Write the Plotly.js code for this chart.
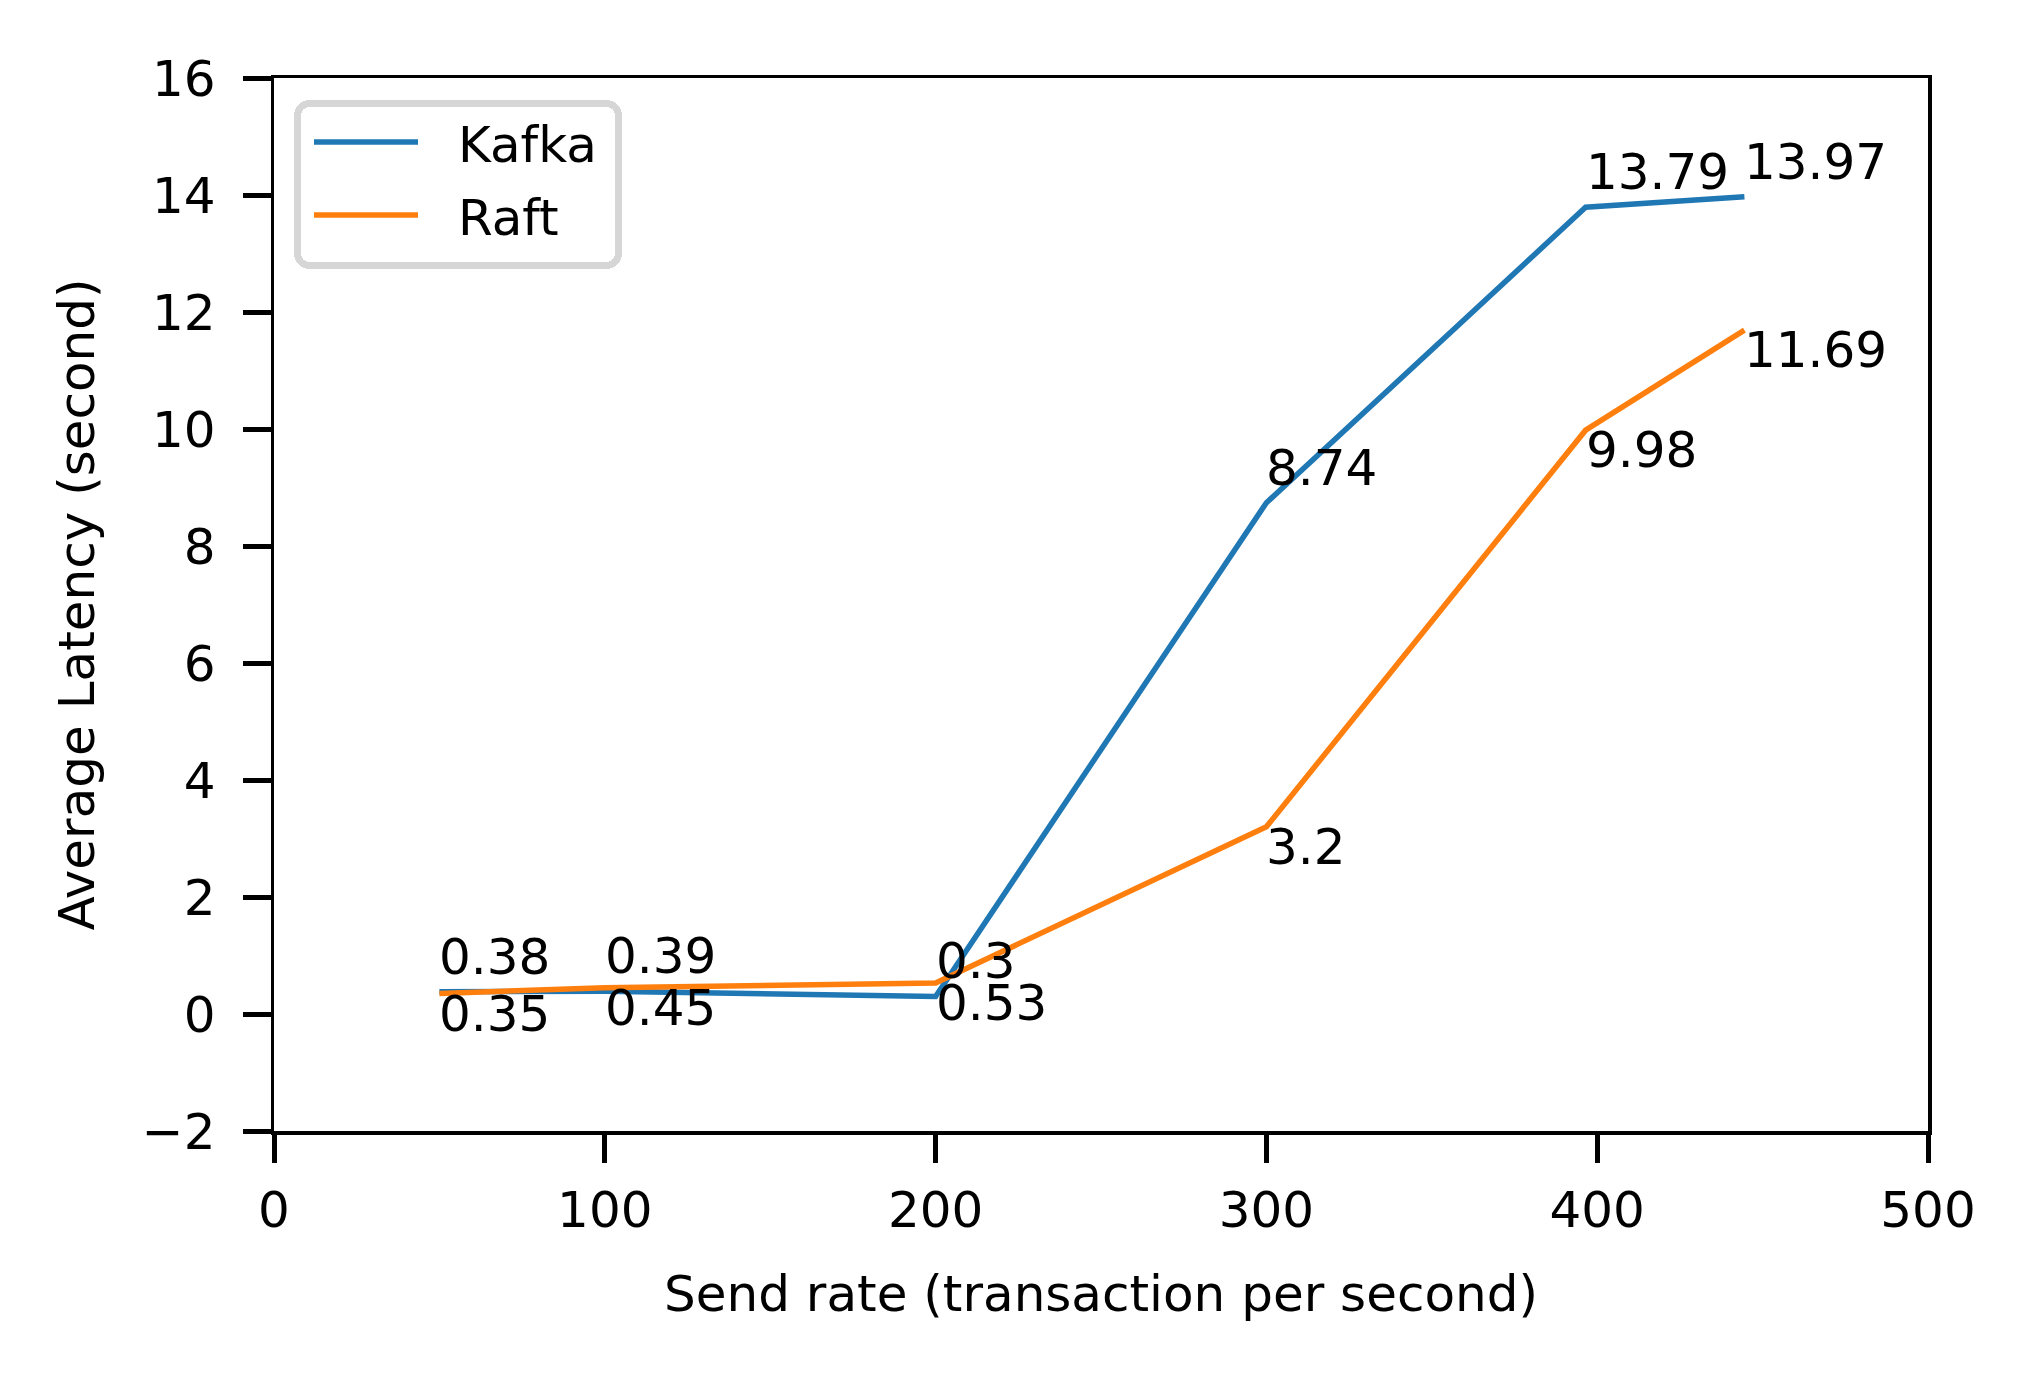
<!DOCTYPE html>
<html>
<head>
<meta charset="utf-8">
<script src="https://cdn.plot.ly/plotly-3.0.1.min.js"></script>
<style>html,body{margin:0;padding:0;background:#fff;}</style>
</head>
<body>
<div id="chart" style="width:2037px;height:1380px;"></div>
<script>
// ---- data ----
var seriesNames = ["Kafka", "Raft"];
var kafkaX = [50, 100, 200, 300, 396.5, 444.5];
var kafkaY = [0.38, 0.39, 0.3, 8.74, 13.79, 13.97];
var raftX = [50, 100, 200, 300, 396.5, 444.5];
var raftY = [0.35, 0.45, 0.53, 3.2, 9.98, 11.69];
var xTicks = [0, 100, 200, 300, 400, 500];
var yTicks = [-2, 0, 2, 4, 6, 8, 10, 12, 14, 16];
var xTitle = "Send rate (transaction per second)";
var yTitle = "Average Latency (second)";

// ---- layout helpers ----
var W = 2037, H = 1380;
var L = 274, R = 1928, T = 78, B = 1131;
function px2x(p) { return (p - L) / (R - L); }
function px2y(p) { return 1 - (p - T) / (B - T); }
var FONT = "DejaVu Sans";
var FS = 50;
var colors = ["#1f77b4", "#ff7f0e"];

var traces = [
  {x: kafkaX, y: kafkaY, name: seriesNames[0], mode: "lines", legendgroup: "a",
   line: {color: colors[0], width: 5.5}},
  {x: raftX, y: raftY, name: seriesNames[1], mode: "lines", legendgroup: "b",
   line: {color: colors[1], width: 5.5}}
];

var annotations = [];
kafkaX.forEach(function (xv, i) {
  annotations.push({x: xv, y: kafkaY[i], xref: "x", yref: "y", text: String(kafkaY[i]),
    showarrow: false, xanchor: "left", yanchor: "bottom", yshift: 5, xshift: -1, borderpad: 0,
    font: {family: FONT, size: FS, color: "#000"}});
});
raftX.forEach(function (xv, i) {
  annotations.push({x: xv, y: raftY[i], xref: "x", yref: "y", text: String(raftY[i]),
    showarrow: false, xanchor: "left", yanchor: "top", yshift: 10, xshift: -1, borderpad: 0,
    font: {family: FONT, size: FS, color: "#000"}});
});

var axisCommon = {
  showgrid: false, zeroline: false, showline: true, mirror: true,
  linecolor: "#000", linewidth: 3.5, ticks: "outside", ticklen: 28, tickwidth: 5,
  tickcolor: "#000", tickfont: {family: FONT, size: FS, color: "#000"}, automargin: false
};

var layout = {
  width: W, height: H,
  margin: {l: L, r: W - R, t: T, b: H - B, pad: 0},
  paper_bgcolor: "#fff", plot_bgcolor: "#fff",
  font: {family: FONT, size: FS, color: "#000"},
  xaxis: Object.assign({}, axisCommon, {
    range: [0, 500], tickmode: "array", tickvals: xTicks, ticktext: xTicks.map(String),
    ticklabelstandoff: 4,
    title: {text: xTitle, font: {family: FONT, size: FS, color: "#000"}, standoff: 39}
  }),
  yaxis: Object.assign({}, axisCommon, {
    range: [-2, 16], tickmode: "array", tickvals: yTicks,
    ticktext: yTicks.map(function (v) { return v < 0 ? "\u2212" + Math.abs(v) : String(v); }),
    ticklabelstandoff: 17,
    title: {text: yTitle, font: {family: FONT, size: FS, color: "#000"}, standoff: 32}
  }),
  showlegend: true,
  legend: {
    x: px2x(294), y: px2y(96), xanchor: "left", yanchor: "top",
    bgcolor: "rgba(255,255,255,0.8)", bordercolor: "#d6d6d6", borderwidth: 7,
    font: {family: FONT, size: FS, color: "#000"}, itemwidth: 147, tracegroupgap: 5
  },
  annotations: annotations
};

Plotly.newPlot("chart", traces, layout, {staticPlot: true, displayModeBar: false}).then(function (gd) {
  var bg = gd.querySelector(".legend rect.bg");
  if (bg) {
    bg.setAttribute("rx", 12); bg.setAttribute("ry", 12);
    var w = parseFloat(bg.getAttribute("width"));
    if (!isNaN(w)) bg.setAttribute("width", w + 13);
    var y0 = parseFloat(bg.getAttribute("y")) || 0;
    bg.setAttribute("y", y0 + 4);
    var h = parseFloat(bg.getAttribute("height"));
    if (!isNaN(h)) bg.setAttribute("height", h + 4);
  }
  gd.querySelectorAll(".legend path.js-line").forEach(function (p) {
    p.setAttribute("d", "M13,0h104");
  });
});
</script>
</body>
</html>
